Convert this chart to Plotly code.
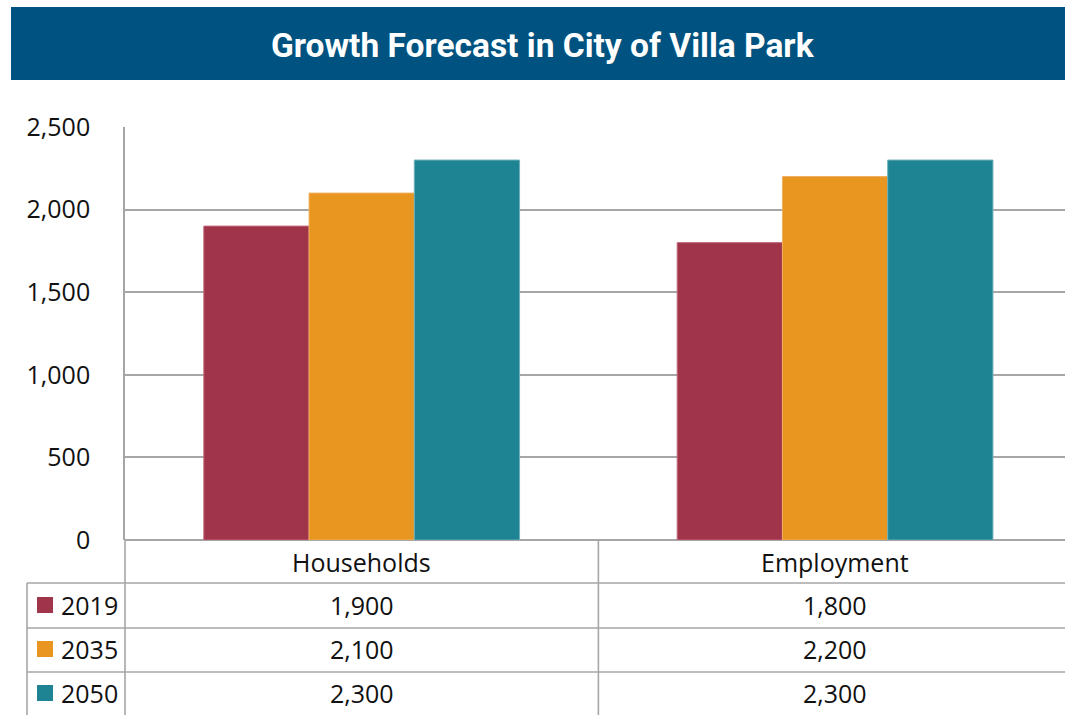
import plotly.graph_objects as go

categories = ["Households", "Employment"]
years = ["2019", "2035", "2050"]
values_2019 = [1900, 1800]
values_2035 = [2100, 2200]
values_2050 = [2300, 2300]
series_values = [values_2019, values_2035, values_2050]
colors = ["#A0344B", "#E89620", "#1E8494"]
edge_colors = ["#C06677", "#F0B060", "#6FB0BA"]
title_text = "Growth Forecast in City of Villa Park"
y_ticks = [0, 500, 1000, 1500, 2000, 2500]

W, H = 1065, 715
def px(x):
    return x / W
def py(y):
    return 1 - y / H

FONT = "Open Sans"
GRID = "#A6A6A6"
TXT = "#111111"
FS = 25

fig = go.Figure()
for name, vals, c, ec in zip(years, series_values, colors, edge_colors):
    fig.add_trace(go.Bar(
        x=list(range(len(categories))), y=vals, name=name,
        marker=dict(color=c, line=dict(color=ec, width=1)),
        showlegend=False, hoverinfo="skip"
    ))

shapes = []
annotations = []

# Title bar
shapes.append(dict(type="rect", xref="paper", yref="paper",
                   x0=px(11), x1=1.0, y0=py(80), y1=py(7),
                   fillcolor="#005380", line=dict(width=0), layer="below"))
annotations.append(dict(text="<b>" + title_text + "</b>", xref="paper", yref="paper",
                        x=px(543), y=py(46), showarrow=False, xanchor="center", yanchor="middle",
                        font=dict(family="Roboto", size=33.5, color="white")))

line = dict(color=GRID, width=1.6)
# table lines
shapes.append(dict(type="line", xref="paper", yref="paper", x0=px(125), x1=px(125), y0=py(540), y1=0, line=line))
shapes.append(dict(type="line", xref="x", yref="paper", x0=0.5, x1=0.5, y0=py(540), y1=0, line=line))
shapes.append(dict(type="line", xref="paper", yref="paper", x0=px(27), x1=px(27), y0=py(583), y1=0, line=line))
for yy in [583, 628, 672]:
    shapes.append(dict(type="line", xref="paper", yref="paper", x0=px(27), x1=1.0, y0=py(yy), y1=py(yy), line=line))

# Category headers
for i, cat in enumerate(categories):
    annotations.append(dict(text=cat, xref="x", yref="paper", x=i, y=py(562), showarrow=False,
                            xanchor="center", yanchor="middle",
                            font=dict(family=FONT, size=FS, color=TXT)))

row_y = [605, 649, 693]
for r, (name, vals, c) in enumerate(zip(years, series_values, colors)):
    yc = row_y[r]
    shapes.append(dict(type="rect", xref="paper", yref="paper",
                       x0=px(37), x1=px(53), y0=py(yc + 8), y1=py(yc - 8),
                       fillcolor=c, line=dict(width=0)))
    annotations.append(dict(text=name, xref="paper", yref="paper", x=px(59), y=py(yc), showarrow=False,
                            xanchor="left", yanchor="middle",
                            font=dict(family=FONT, size=FS, color=TXT)))
    for i, v in enumerate(vals):
        annotations.append(dict(text=f"{v:,}", xref="x", yref="paper", x=i, y=py(yc), showarrow=False,
                                xanchor="center", yanchor="middle",
                                font=dict(family=FONT, size=FS, color=TXT)))

# x range so that category slots span 124..1071 (reference), with visible part ending at 1065
slot = (1071 - 124.25) / 2
x_right = -0.5 + (1065 - 125) / slot

fig.update_layout(
    template="none",
    width=W, height=H, autosize=False,
    margin=dict(l=0, r=0, t=0, b=0, pad=0, autoexpand=False),
    paper_bgcolor="white", plot_bgcolor="white",
    barmode="group", bargap=0.333, bargroupgap=0,
    shapes=shapes, annotations=annotations,
    xaxis=dict(domain=[px(125), 1], range=[-0.5, x_right], showticklabels=False, automargin=False,
               showgrid=False, zeroline=False, showline=False, fixedrange=True, ticks=""),
    yaxis=dict(domain=[py(540), py(127)], range=[0, 2500], tickvals=y_ticks, automargin=False,
               tickformat=",", showgrid=True, gridcolor=GRID, gridwidth=1.6,
               zeroline=True, zerolinecolor=GRID, zerolinewidth=1.6,
               showline=True, linecolor=GRID, linewidth=1.6,
               ticks="", ticklabelstandoff=28,
               tickfont=dict(family=FONT, size=FS, color=TXT), fixedrange=True),
)

fig.write_html("out.html", config={"displayModeBar": False},
               post_script="document.body.style.margin='0';document.body.style.overflow='hidden';")
